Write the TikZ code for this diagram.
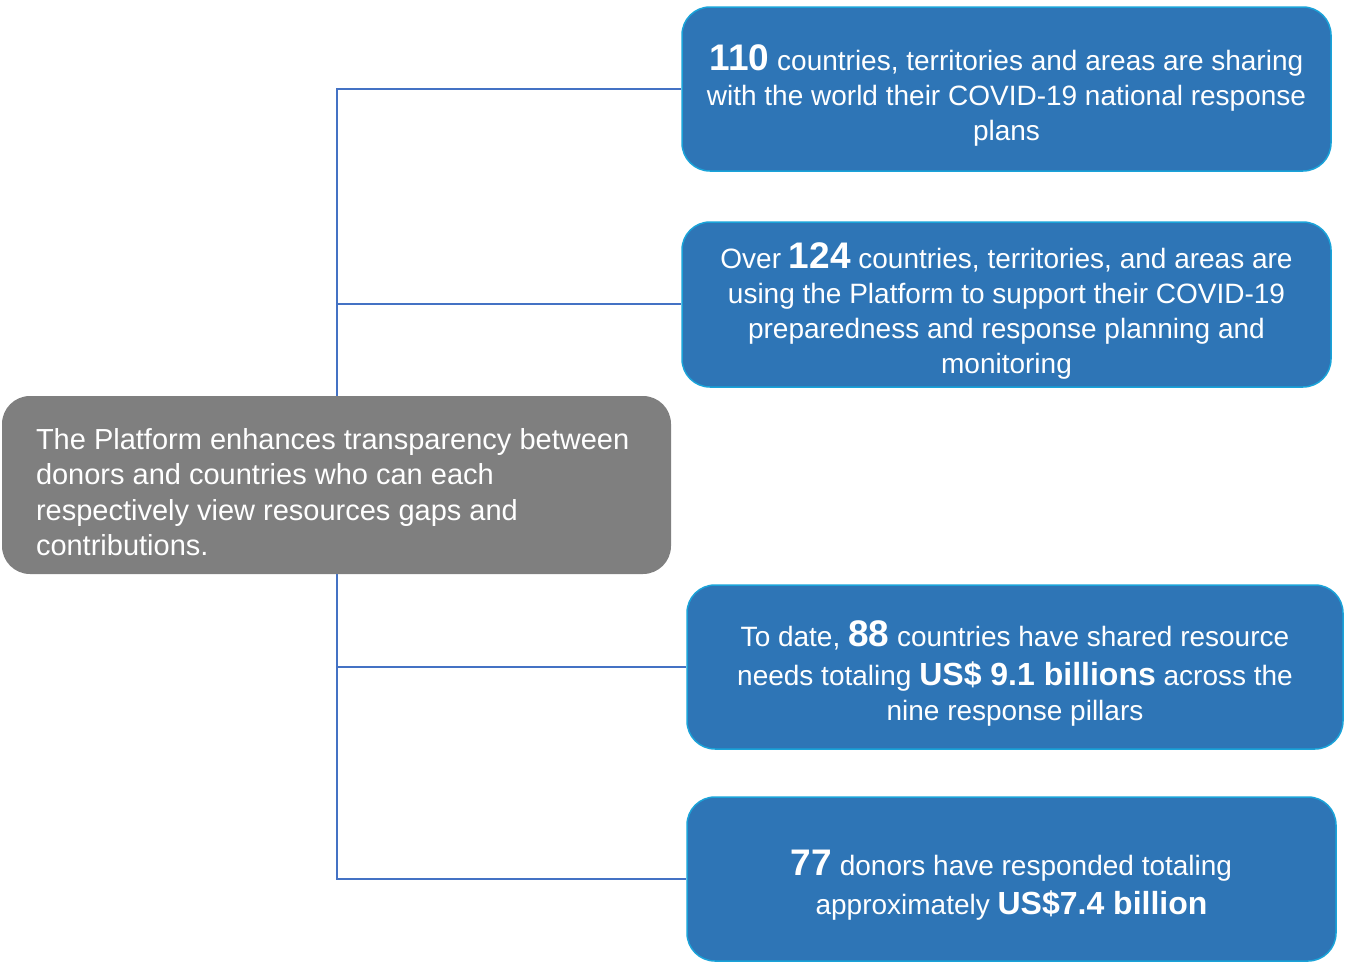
\documentclass[tikz,border=0pt]{standalone}
\usepackage{fontspec}
\setmainfont{Liberation Sans}
\definecolor{boxblue}{HTML}{2E75B6}
\definecolor{boxedge}{HTML}{1AA3D9}
\definecolor{boxgray}{HTML}{7F7F7F}
\definecolor{linkblue}{HTML}{4472C4}
\newcommand{\bignum}[1]{{\fontsize{37}{35}\selectfont\bfseries #1}}
\newcommand{\bigmoney}[1]{{\fontsize{32}{35}\selectfont\bfseries #1}}
\begin{document}
\begin{tikzpicture}[x=1pt,y=-1pt,
  bluebox/.style={draw=boxedge, line width=1.5pt, fill=boxblue, rounded corners=28pt, inner sep=0pt},
  graybox/.style={draw=none, fill=boxgray, rounded corners=28pt, inner sep=0pt},
  bluetext/.style={text=white, align=center, inner sep=0pt, font=\fontsize{28}{35}\selectfont},
  graytext/.style={text=white, align=left, inner sep=0pt, font=\fontsize{29}{35.5}\selectfont},
  link/.style={draw=linkblue, line width=1.3pt}]
\useasboundingbox (0,0) rectangle (1345,962);
\coordinate (top) at (337,89);
\coordinate (j2) at (337,304);
\coordinate (j3) at (337,667);
\coordinate (bot) at (337,879);
\node[bluebox, minimum width=649pt, minimum height=164pt] (b1) at (1006.5,89) {};
\node[bluebox, minimum width=649pt, minimum height=165pt] (b2) at (1006.5,304.5) {};
\node[bluebox, minimum width=656pt, minimum height=164pt] (b3) at (1015,667) {};
\node[bluebox, minimum width=649pt, minimum height=164pt] (b4) at (1011.5,879) {};
\node[bluetext] (t1) at ([yshift=-6pt]b1.center)
  {\bignum{110} countries, territories and areas are sharing\\with the world their COVID-19 national response\\plans};
\node[bluetext] (t2) at ([yshift=-6pt]b2.center)
  {Over \bignum{124} countries, territories, and areas are\\using the Platform to support their COVID-19\\preparedness and response planning and\\monitoring};
\node[bluetext] (t3) at ([yshift=-6pt]b3.center)
  {To date, \bignum{88} countries have shared resource\\[4pt]needs totaling \bigmoney{US\$ 9.1 billions} across the\\nine response pillars};
\node[bluetext] (t4) at ([yshift=-6pt]b4.center)
  {\bignum{77} donors have responded totaling\\[4pt]approximately \bigmoney{US\$7.4 billion}};
\draw[link] (b1.west |- top) -- (top) -- (bot) -- (b4.west |- bot);
\draw[link] (j2) -- (b2.west |- j2);
\draw[link] (j3) -- (b3.west |- j3);
\node[graybox, minimum width=669pt, minimum height=178pt] (g) at (336.5,485) {};
\node[graytext, anchor=west] (gt) at ([xshift=34pt, yshift=-7pt]g.west)
  {The Platform enhances transparency between\\donors and countries who can each\\respectively view resources gaps and\\contributions.};
\end{tikzpicture}
\end{document}
